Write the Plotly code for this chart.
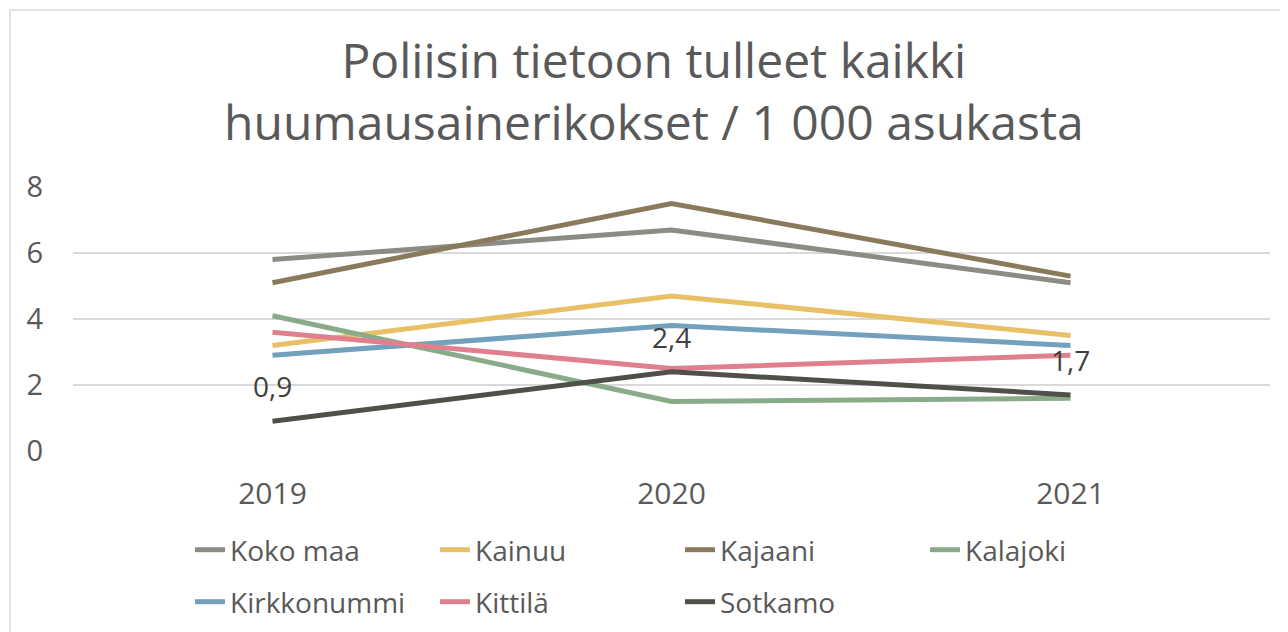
import plotly.graph_objects as go

years = ["2019", "2020", "2021"]
series_names = ["Koko maa", "Kainuu", "Kajaani", "Kalajoki", "Kirkkonummi", "Kittilä", "Sotkamo"]
koko_maa = [5.8, 6.7, 5.1]
kainuu = [3.2, 4.7, 3.5]
kajaani = [5.1, 7.5, 5.3]
kalajoki = [4.1, 1.5, 1.6]
kirkkonummi = [2.9, 3.8, 3.2]
kittila = [3.6, 2.5, 2.9]
sotkamo = [0.9, 2.4, 1.7]
y_ticks = [0, 2, 4, 6, 8]
title_lines = ["Poliisin tietoon tulleet kaikki", "huumausainerikokset / 1 000 asukasta"]

series_values = [koko_maa, kainuu, kajaani, kalajoki, kirkkonummi, kittila, sotkamo]
colors = ["#8c8c85", "#e8c066", "#8a7a5c", "#8aab8a", "#72a0bd", "#e0808f", "#50504a"]
legend_ids = ["legend", "legend", "legend", "legend", "legend2", "legend2", "legend2"]

FONT = "Open Sans"

fig = go.Figure()
for name, vals, col, lg in zip(series_names, series_values, colors, legend_ids):
    fig.add_trace(go.Scatter(
        x=years, y=vals, name=name, mode="lines",
        line=dict(color=col, width=5),
        hoverinfo="skip", legend=lg,
    ))

# data labels for Sotkamo
for i, v in enumerate(sotkamo):
    fig.add_annotation(
        x=i, y=v, text=f"{v:.1f}".replace(".", ","), showarrow=False,
        yshift=35, font=dict(size=28, color="#404040", family=FONT),
    )

# page body offset (default 8px margin in the html page)
OFF = 8
W, H = 1288, 632
# plot area in window pixels
PL, PR, PT, PB = 73, 1270, 187, 451
L = PL - OFF
T = PT - OFF
R = W - (PR - OFF)
B = H - (PB - OFF)
pw = W - L - R
ph = H - T - B

def px_x(p):
    return (p - PL) / pw

def px_y(p):
    return (PB - p) / ph

fig.add_shape(type="rect", xref="paper", yref="paper",
              x0=px_x(10), x1=px_x(1320), y0=px_y(680), y1=px_y(10),
              line=dict(color="#d9d9d9", width=1.5), layer="below")

fig.add_annotation(
    text="<br>".join(title_lines), xref="paper", yref="paper",
    x=px_x(654), y=px_y(90), xanchor="center", yanchor="middle",
    showarrow=False, font=dict(size=48, color="#595959", family=FONT),
)

legend_common = dict(
    orientation="h", xanchor="left", yanchor="middle",
    entrywidth=200, entrywidthmode="pixels",
    font=dict(size=28, color="#595959", family=FONT),
    bgcolor="rgba(0,0,0,0)",
)

fig.update_layout(
    width=W, height=H,
    margin=dict(l=L, r=R, t=T, b=B, autoexpand=False),
    paper_bgcolor="white", plot_bgcolor="white",
    font=dict(family=FONT, color="#595959"),
    xaxis=dict(
        type="category", range=[-0.5, 2.5], showgrid=False, showline=False,
        ticks="", tickfont=dict(size=30, color="#595959"), ticklabelstandoff=22,
        zeroline=False,
    ),
    yaxis=dict(
        range=[0, 8], tickvals=y_ticks, showgrid=True, gridcolor="#d9d9d9", gridwidth=1.5,
        zeroline=False, showline=False, ticks="",
        tickfont=dict(size=29, color="#595959"), ticklabelstandoff=29,
    ),
    legend=dict(x=px_x(190), y=px_y(550), **legend_common),
    legend2=dict(x=px_x(190), y=px_y(602), **legend_common),
    showlegend=True,
)

fig.write_html("out.html")
